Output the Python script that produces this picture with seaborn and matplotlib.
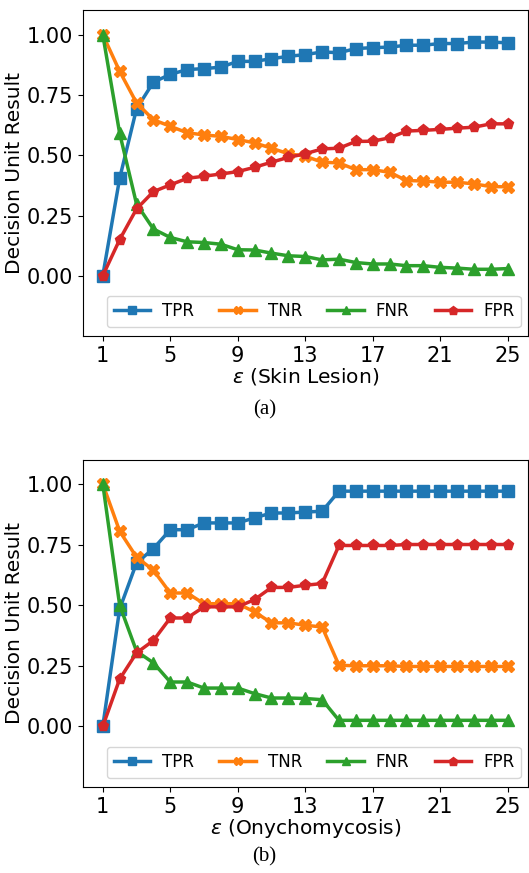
import numpy as np
import matplotlib
matplotlib.use("Agg")
import matplotlib.pyplot as plt
import pandas as pd
import seaborn as sns

# epsilon values
eps = list(range(1, 26))

# (a) Skin Lesion
skin_tpr = [0.0, 0.404, 0.692, 0.803, 0.835, 0.855, 0.859, 0.865, 0.889, 0.889,
            0.900, 0.910, 0.917, 0.928, 0.925, 0.942, 0.946, 0.948, 0.956, 0.956,
            0.963, 0.963, 0.969, 0.969, 0.966]
skin_tnr = [1.0, 0.848, 0.717, 0.647, 0.620, 0.593, 0.584, 0.578, 0.565, 0.551,
            0.529, 0.506, 0.496, 0.471, 0.468, 0.440, 0.440, 0.429, 0.395, 0.393,
            0.388, 0.388, 0.381, 0.370, 0.369]
skin_fnr = [1.0, 0.591, 0.298, 0.194, 0.159, 0.141, 0.138, 0.131, 0.108, 0.107,
            0.094, 0.083, 0.080, 0.066, 0.069, 0.055, 0.049, 0.049, 0.042, 0.042,
            0.035, 0.032, 0.027, 0.027, 0.030]
skin_fpr = [0.0, 0.150, 0.277, 0.349, 0.377, 0.404, 0.413, 0.422, 0.432, 0.450,
            0.471, 0.491, 0.506, 0.526, 0.529, 0.557, 0.558, 0.572, 0.600, 0.603,
            0.607, 0.612, 0.616, 0.630, 0.630]

# (b) Onychomycosis
ony_tpr = [0.0, 0.484, 0.674, 0.733, 0.811, 0.811, 0.839, 0.839, 0.839, 0.860,
           0.880, 0.880, 0.884, 0.887, 0.970, 0.970, 0.970, 0.970, 0.970, 0.970,
           0.970, 0.970, 0.970, 0.970, 0.970]
ony_tnr = [1.0, 0.805, 0.698, 0.644, 0.550, 0.550, 0.506, 0.506, 0.506, 0.472,
           0.427, 0.427, 0.417, 0.410, 0.252, 0.250, 0.250, 0.250, 0.247, 0.247,
           0.247, 0.247, 0.247, 0.247, 0.247]
ony_fnr = [1.0, 0.500, 0.310, 0.262, 0.183, 0.183, 0.158, 0.158, 0.158, 0.135,
           0.117, 0.117, 0.115, 0.110, 0.025, 0.025, 0.025, 0.025, 0.025, 0.025,
           0.025, 0.025, 0.025, 0.025, 0.025]
ony_fpr = [0.0, 0.195, 0.303, 0.354, 0.447, 0.447, 0.493, 0.493, 0.493, 0.523,
           0.573, 0.573, 0.582, 0.589, 0.746, 0.746, 0.746, 0.746, 0.750, 0.750,
           0.750, 0.750, 0.750, 0.750, 0.750]

metrics = ["TPR", "TNR", "FNR", "FPR"]
colors = ["#1f77b4", "#ff7f0e", "#2ca02c", "#d62728"]
marks = ["s", "X", "^", "p"]

fig = plt.figure(figsize=(5.29, 8.73), dpi=100)
ax_a = fig.add_axes([0.156, 0.615, 0.842, 0.373])
ax_b = fig.add_axes([0.156, 0.0985, 0.842, 0.375])

panels = [
    (ax_a, [skin_tpr, skin_tnr, skin_fnr, skin_fpr], r"$\epsilon$ (Skin Lesion)", "(a)", 0.520),
    (ax_b, [ony_tpr, ony_tnr, ony_fnr, ony_fpr], r"$\epsilon$ (Onychomycosis)", "(b)", 0.007),
]

for ax, series, xlab, cap, cy in panels:
    for name, vals, c, m in zip(metrics, series, colors, marks):
        df = pd.DataFrame({"eps": eps, "val": vals})
        sns.lineplot(data=df, x="eps", y="val", ax=ax, color=c, marker=m,
                     markersize=8, linewidth=2.5, markeredgecolor=c,
                     markeredgewidth=1, label=name)
    ax.set_ylim(-0.25, 1.1)
    ax.set_yticks([0.0, 0.25, 0.5, 0.75, 1.0])
    ax.set_yticklabels(["0.00", "0.25", "0.50", "0.75", "1.00"])
    ax.set_xticks(range(1, 26, 4))
    ax.tick_params(labelsize=15)
    ax.set_xlabel(xlab, fontsize=14.5, labelpad=0)
    ax.set_ylabel("Decision Unit Result", fontsize=14.5, labelpad=2)
    ax.legend(loc="lower left", bbox_to_anchor=(0.055, 0.028, 0.929, 0.1),
              mode="expand", ncol=4, fontsize=12, handlelength=2.2,
              markerscale=0.8, borderaxespad=0, handletextpad=0.7)
    fig.text(0.5, cy, cap, ha="center", va="bottom", fontsize=15,
             family="Liberation Serif")

plt.savefig("out.png", dpi=100)
